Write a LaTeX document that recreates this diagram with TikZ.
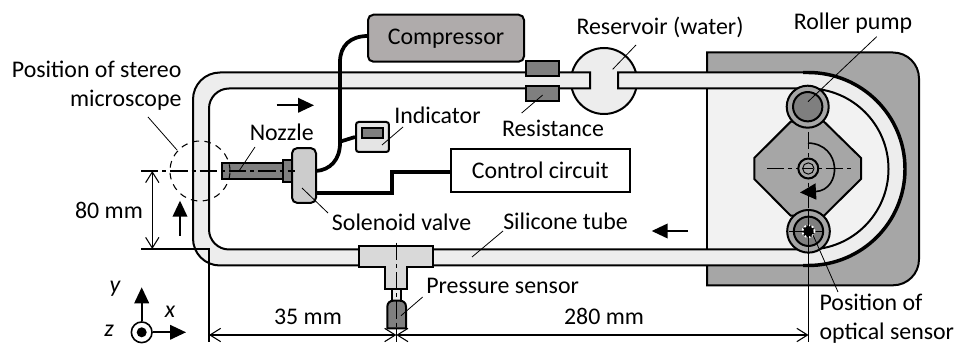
\documentclass[tikz,border=0pt]{standalone}
\usepackage{fontspec}
\setmainfont{Carlito}
\usetikzlibrary{arrows.meta}
\definecolor{tubegray}{HTML}{EDEDED}
\definecolor{plategray}{HTML}{A6A6A6}
\definecolor{darkgray}{HTML}{7F7F7F}
\definecolor{boxgray}{HTML}{AFABAB}
\tikzset{
  lbl/.style={inner sep=0pt,font=\fontsize{17.9}{21.75}\selectfont},
  part/.style={draw=black,line width=1.5pt},
  leader/.style={draw=black,line width=0.6pt},
  centre/.style={draw=black,line width=0.8pt,dash pattern=on 13pt off 3pt on 3pt off 3pt},
  pipe/.style={draw=black,line width=2.8pt},
  dim/.style={draw=black,line width=0.8pt,{Straight Barb[length=8pt,width=10pt]}-{Straight Barb[length=8pt,width=10pt]}},
  flow/.style={draw=black,line width=1.2pt,-{Triangle[length=12pt,width=11pt]}}
}
\begin{document}
\begin{tikzpicture}[x=0.75pt,y=-0.75pt]
      \useasboundingbox (0,0) rectangle (957,345);
      % pump plate
      \draw[part,fill=plategray] (707,52.5) -- (893,52.5) .. controls (907.4,52.5) and (919,64.1) .. (919,78.5) -- (919,259.3) .. controls (919,273.7) and (907.4,285.3) .. (893,285.3) -- (707,285.3) -- cycle;
      \fill[black!5] (707,88.5) -- (808,88.5) .. controls (852.5,88.5) and (888.5,124.5) .. (888.5,169) .. controls (888.5,213.5) and (852.5,249.5) .. (808,249.5) -- (707,249.5) -- cycle;
      \draw[line width=1.2pt] (707,52.5) -- (707,285.3);
      % reservoir
      \node[part,circle,fill=tubegray,minimum size=49.5pt,inner sep=0pt] (reservoir) at (604,81) {};
      % silicone tube
      \draw[part,fill=tubegray] (590,72.5) -- (590,88.5) -- (229,88.5) .. controls (218,88.5) and (209,97.5) .. (209,108.5) -- (209,229.5) .. controls (209,240.5) and (218,249.5) .. (229,249.5) -- (808,249.5) .. controls (852.5,249.5) and (888.5,213.5) .. (888.5,169) .. controls (888.5,124.5) and (852.5,88.5) .. (808,88.5) -- (618,88.5) -- (618,72.5) -- (808,72.5) .. controls (861.6,72.5) and (905,115.4) .. (905,169) .. controls (905,222.6) and (861.6,265.5) .. (808,265.5) -- (220,265.5) .. controls (205,265.5) and (193,253.5) .. (193,238.5) -- (193,99.5) .. controls (193,84.5) and (205,72.5) .. (220,72.5) -- cycle;
      \draw[line width=2.6pt] (803,72.5) -- (808,72.5) .. controls (861.6,72.5) and (905,115.4) .. (905,169) .. controls (905,222.6) and (861.6,265.5) .. (808,265.5) -- (803,265.5);
      % resistance
      \node[part,fill=darkgray,minimum width=24.3pt,minimum height=11.2pt,inner sep=0pt] (restop) at (542.5,68.8) {};
      \node[part,fill=darkgray,minimum width=24.3pt,minimum height=11.2pt,inner sep=0pt] (resbot) at (542.5,93.8) {};
      % rotor
      \draw[part,fill=plategray] (790.7,121.7) -- (824,121.7) -- (861,158) -- (861,179) -- (824,215.7) -- (790.7,215.7) -- (754.3,179) -- (754.3,158) -- cycle;
      \draw[centre] (808.3,132) -- (808.3,208);
      \draw[centre] (767,168.5) -- (853,168.5);
      \node[part,circle,fill=plategray,minimum size=15pt,inner sep=0pt] (hub) at (808.3,168.5) {};
      \node[draw,circle,fill=plategray,minimum size=8.5pt,inner sep=0pt,line width=0.7pt] (hubin) at (808.3,168.5) {};
      \draw[line width=0.7pt] (803,168.5) -- (813,168.5);
      \draw[line width=1.2pt,-{Triangle[length=12pt,width=12pt]}] (808,143) .. controls (842,144) and (842,190) .. (800,192.5);
      % rollers
      \node[part,circle,fill=plategray,minimum size=31.5pt,inner sep=0pt] (rolltop) at (807.7,106.7) {};
      \node[part,circle,fill=darkgray,minimum size=22pt,inner sep=0pt] (rolltopin) at (807.7,106.7) {};
      \node[part,circle,fill=plategray,minimum size=32pt,inner sep=0pt] (rollbot) at (808.5,231.3) {};
      \node[part,circle,fill=darkgray,minimum size=22pt,inner sep=0pt] (rollbotin) at (808.5,231.3) {};
      \draw[line width=0.7pt] (789,231.3) -- (822,231.3);
      \node[circle,fill=black,draw=white,dash pattern=on 1.5pt off 1.5pt,minimum size=9pt,inner sep=0pt,line width=1.3pt] (optical) at (808.5,231.3) {};
      % T joint and pressure sensor
      \draw[part,fill=black!15] (359,246) -- (433,246) -- (433,267) -- (407.3,267) -- (407.3,289.3) -- (385.3,289.3) -- (385.3,267) -- (359,267) -- cycle;
      \draw[line width=1.1pt,fill=black!8] (392,289.3) rectangle (401,301);
      \draw[part,fill=darkgray] (387.3,328.3) -- (387.3,306.7) .. controls (387.3,303) and (390,300.7) .. (393.3,300.7) -- (400,300.7) .. controls (403.3,300.7) and (406,303) .. (406,306.7) -- (406,328.3) -- cycle;
      \draw[centre] (396.3,242.7) -- (396.3,330);
      % compressor and air lines
      \node[part,fill=boxgray,rounded corners=4pt,minimum width=117pt,minimum height=35.2pt,inner sep=0pt] (compressor) at (446,38.2) {};
      \node[lbl] (comptext) at (446,39) {Compressor};
      \node[part,fill=white,minimum width=134.2pt,minimum height=31.7pt,inner sep=0pt] (control) at (540.2,170.5) {};
      \node[lbl] (controltext) at (540.2,170.5) {Control circuit};
      \node[part,fill=black!10,rounded corners=2pt,minimum width=24.7pt,minimum height=22.5pt,inner sep=0pt] (indicator) at (372.5,137) {};
      \node[part,fill=darkgray,minimum width=15.7pt,minimum height=7.5pt,inner sep=0pt] (indicatorin) at (372.5,133) {};
      % nozzle and valve
      \node[part,fill=darkgray,minimum width=45.3pt,minimum height=11.7pt,inner sep=0pt] (nozzle) at (252.5,171) {};
      \node[part,fill=darkgray,minimum width=7pt,minimum height=16.2pt,inner sep=0pt] (collar) at (287.3,171) {};
      \node[part,fill=black!20,rounded corners=4pt,minimum width=18pt,minimum height=41.2pt,inner sep=0pt] (valve) at (304,175.5) {};
      \coordinate (compin) at (368,36);
      \coordinate (valveup) at (316,171);
      \coordinate (valvedn) at (316,192.7);
      \draw[pipe] (compin) .. controls (350,36) and (340,46) .. (340,62) -- (340,143) .. controls (340,160) and (330,170) .. (valveup);
      \draw[pipe] (340,141.7) -- (indicator.west);
      \draw[pipe] (valvedn) -- (391.7,192.7) -- (391.7,171.7) -- (450.7,171.7);
      % microscope position
      \node[draw,circle,dash pattern=on 5pt off 4pt,minimum size=45pt,inner sep=0pt,line width=0.8pt] (scope) at (200,171) {};
      \draw[centre] (141,171) -- (295,171);
      % flow direction
      \coordinate (flowa) at (276.7,105.3);
      \coordinate (flowb) at (314,105.3);
      \coordinate (flowc) at (688,231);
      \coordinate (flowd) at (651.7,231);
      \coordinate (flowe) at (180,236);
      \coordinate (flowf) at (180,200.7);
      \draw[flow] (flowa) -- (flowb);
      \draw[flow] (flowc) -- (flowd);
      \draw[flow] (flowe) -- (flowf);
      % dimensions
      \draw[line width=0.8pt] (141,249) -- (209,249) -- (209,342);
      \draw[line width=0.9pt] (808.5,211) -- (808.5,342);
      \draw[line width=0.8pt] (396.3,328) -- (396.3,342);
      \draw[dim] (152.3,171) -- (152.3,249);
      \draw[dim] (209,335) -- (396.3,335);
      \draw[dim] (396.3,335) -- (808.5,335);
      \node[lbl] (dimh) at (109,210.7) {80 mm};
      \node[lbl] (dima) at (308,316.7) {35 mm};
      \node[lbl] (dimb) at (604,316.7) {280 mm};
      % axes
      \coordinate (yend) at (141.7,287.3);
      \coordinate (xend) at (186,332.3);
      \node[draw,circle,fill=white,minimum size=15.5pt,inner sep=0pt,line width=1.2pt] (axis) at (141.7,332.3) {};
      \node[circle,fill=black,minimum size=7.5pt,inner sep=0pt] (axisdot) at (141.7,332.3) {};
      \draw[flow] (axis) -- (yend);
      \draw[flow] (axis) -- (xend);
      \node[lbl,font=\fontsize{17.9}{21.75}\selectfont\itshape] (ylab) at (115,289) {y};
      \node[lbl,font=\fontsize{17.9}{21.75}\selectfont\itshape] (xlab) at (170,311.7) {x};
      \node[lbl,font=\fontsize{17.9}{21.75}\selectfont\itshape] (zlab) at (109,330.7) {z};
      % labels
      \node[lbl,align=right,anchor=east] (lscope) at (181.7,85.5) {Position of stereo\\microscope};
      \node[lbl] (lnozzle) at (281.7,132.7) {Nozzle};
      \node[lbl,anchor=west] (lindicator) at (394,115) {Indicator};
      \node[lbl] (lresist) at (553,128) {Resistance};
      \node[lbl] (lreserv) at (660,27) {Reservoir (water)};
      \node[lbl] (lroller) at (853,23) {Roller pump};
      \node[lbl,anchor=west] (lvalve) at (331.7,222) {Solenoid valve};
      \node[lbl,anchor=west] (ltube) at (503,221) {Silicone tube};
      \node[lbl,anchor=west] (lpress) at (426,285.7) {Pressure sensor};
      \node[lbl,align=left,anchor=west] (loptical) at (819.3,318.5) {Position of\\optical sensor};
      % leaders
      \coordinate (a1) at (177,150);   \coordinate (a2) at (148,117);
      \coordinate (b1) at (239,171);   \coordinate (b2) at (255,147);
      \coordinate (c1) at (302,188);   \coordinate (c2) at (328,213);
      \coordinate (d1) at (382,145);   \coordinate (d2) at (403,127);
      \coordinate (e1) at (542.7,95);  \coordinate (e2) at (521.7,113);
      \coordinate (f1) at (612.7,69.3);\coordinate (f2) at (636,45);
      \coordinate (g1) at (808,101.7); \coordinate (g2) at (876.7,36.7);
      \coordinate (h1) at (472,257);   \coordinate (h2) at (503,231);
      \coordinate (k1) at (401,315.7); \coordinate (k2) at (422.7,297);
      \coordinate (m1) at (813,235);   \coordinate (m2) at (838,292);
      \foreach \s/\t in {a1/a2,b1/b2,c1/c2,d1/d2,e1/e2,f1/f2,g1/g2,h1/h2,k1/k2,m1/m2}
        \draw[leader] (\s) -- (\t);
\end{tikzpicture}
\end{document}
